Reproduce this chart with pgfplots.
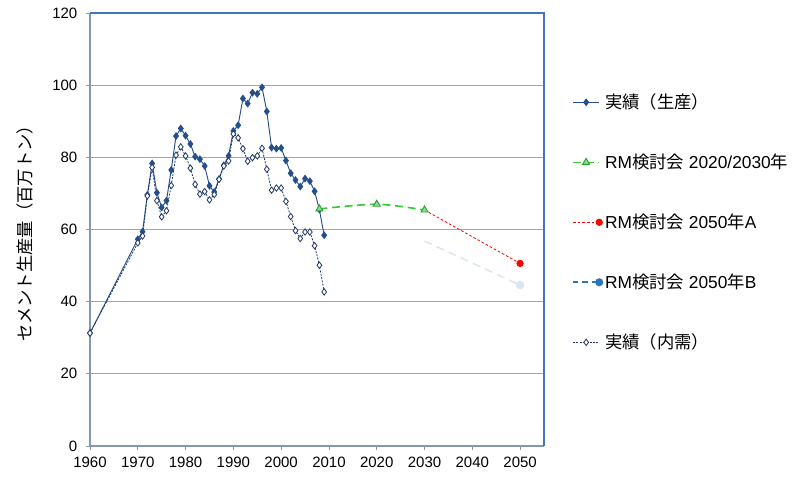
\documentclass[border=0pt]{standalone}
\usepackage{pgfplots}
\pgfplotsset{compat=1.18}
\usepackage{fontspec}
\setmainfont{Liberation Sans}
\newfontfamily\cjk{Noto Sans CJK JP}
\definecolor{prod}{RGB}{37,79,140}
\definecolor{cons}{RGB}{31,56,100}
\definecolor{rmg}{RGB}{51,204,51}
\definecolor{rmgfill}{RGB}{140,220,160}
\definecolor{bpale}{RGB}{220,230,242}
\definecolor{bdark}{RGB}{46,117,182}
\definecolor{axgray}{RGB}{134,150,176}
\definecolor{frame}{RGB}{68,114,196}
\pgfplotsset{
  midleg/.style={legend image code/.code={\draw[mark repeat=2,mark phase=2,##1] plot coordinates {(0cm,0cm) (0.345cm,0cm) (0.69cm,0cm)};}},
  endleg/.style={legend image code/.code={\draw[mark repeat=2,mark phase=2,##1] plot coordinates {(0cm,0cm) (0.69cm,0cm)};}},
}
\begin{document}
\begin{tikzpicture}
\useasboundingbox (-67.5pt,-26.25pt) rectangle (535.5pt,334.5pt);
\begin{axis}[
  scale only axis,
  width=340.5pt, height=324.75pt,
  xmin=1960, xmax=2055, ymin=0, ymax=120,
  xtick={1960,1970,...,2050},
  ytick={0,20,...,120},
  axis lines=left,
  axis line style={-, axgray, line width=0.9pt},
  tick align=outside,
  major tick length=3pt,
  tick style={axgray, line width=0.6pt},
  ymajorgrids,
  grid style={gray!70, line width=0.7pt},
  /pgf/number format/assume math mode=true,
  /pgf/number format/1000 sep={},
  tick label style={font=\fontsize{11.25}{13}\selectfont},
  xticklabel style={yshift=-2pt},
  yticklabel style={xshift=-3pt},
  every axis y label/.style={at={(axis description cs:-0.143,0.5)}, rotate=90, anchor=center},
  ylabel={\fontsize{13}{15}\selectfont\cjk セメント生産量（百万トン）},
  legend style={draw=none, fill=none, at={(rel axis cs:1.0617,0.82)}, anchor=north west,
    font=\fontsize{13}{15}\selectfont, row sep=28.5pt, inner sep=0pt},
  legend cell align=left,
  clip=false,
]
\draw[frame, line width=0.9pt] (rel axis cs:0,1) -- (rel axis cs:1,1) -- (rel axis cs:1,0);
% production
\addplot[prod, line width=0.7pt, mark=diamond*, mark size=2.4pt, mark options={fill=prod, draw=prod}, midleg]
coordinates {
(1960,31.3) (1970,57.3) (1971,59.4) (1972,69.6) (1973,78.3) (1974,70.2) (1975,66.1) (1976,68.0)
(1977,76.5) (1978,85.9) (1979,88.0) (1980,86.0) (1981,83.7) (1982,80.2) (1983,79.5) (1984,77.6)
(1985,72.1) (1986,70.4) (1987,74.0) (1988,77.8) (1989,80.4) (1990,87.3) (1991,88.9) (1992,96.3)
(1993,94.9) (1994,97.9) (1995,97.6) (1996,99.4) (1997,92.7) (1998,82.7) (1999,82.4) (2000,82.6)
(2001,79.1) (2002,75.6) (2003,73.7) (2004,71.9) (2005,74.1) (2006,73.4) (2007,70.6) (2008,65.5)
(2009,58.4)};
\addlegendentry{\cjk 実績（生産）}
% RM 2020/2030
\addplot[rmg, line width=1.2pt, dash pattern=on 6pt off 3.5pt, smooth, tension=0.5,
  mark=triangle*, mark size=3pt, mark options={solid, fill=rmgfill, draw=rmg!80!black, line width=0.7pt}, midleg]
coordinates {(2008,65.7) (2020,67.0) (2030,65.4)};
\addlegendentry{RM{\cjk 検討会} 2020/2030{\cjk 年}}
% A
\addplot[red, line width=0.6pt, dash pattern=on 2pt off 1.5pt, mark=*, mark size=2.4pt, mark indices={2},
  mark options={solid, fill=red}, endleg]
coordinates {(2030,65.4) (2050,50.6)};
\addlegendentry{RM{\cjk 検討会} 2050{\cjk 年}A}
% B (pale in plot)
\addplot[bpale, line width=1.2pt, dash pattern=on 6pt off 4pt, mark=*, mark size=2.6pt, mark indices={2},
  mark options={solid, fill=bpale}, forget plot]
coordinates {(2030,56.8) (2050,44.6)};
\addlegendimage{bdark, line width=1.2pt, dash pattern=on 4pt off 3pt, mark=*, mark size=2.4pt,
  mark options={solid, fill=bdark}, endleg}
\addlegendentry{RM{\cjk 検討会} 2050{\cjk 年}B}
% consumption
\addplot[cons, line width=0.6pt, dash pattern=on 1.5pt off 1pt, mark=diamond*, mark size=2.4pt,
  mark options={solid, fill=white, draw=cons, line width=0.6pt}, midleg]
coordinates {
(1960,31.3) (1970,56.3) (1971,58.2) (1972,69.3) (1973,77.2) (1974,68.0) (1975,63.5) (1976,65.2)
(1977,72.2) (1978,80.6) (1979,82.9) (1980,80.4) (1981,77.0) (1982,72.5) (1983,69.8) (1984,70.5)
(1985,68.2) (1986,69.7) (1987,73.9) (1988,77.6) (1989,79.0) (1990,86.5) (1991,85.4) (1992,82.4)
(1993,78.9) (1994,79.9) (1995,80.4) (1996,82.5) (1997,76.7) (1998,70.9) (1999,71.5) (2000,71.5)
(2001,67.8) (2002,63.6) (2003,59.7) (2004,57.5) (2005,59.3) (2006,59.3) (2007,55.5) (2008,50.1)
(2009,42.7)};
\addlegendentry{\cjk 実績（内需）}
\end{axis}
\end{tikzpicture}
\end{document}
